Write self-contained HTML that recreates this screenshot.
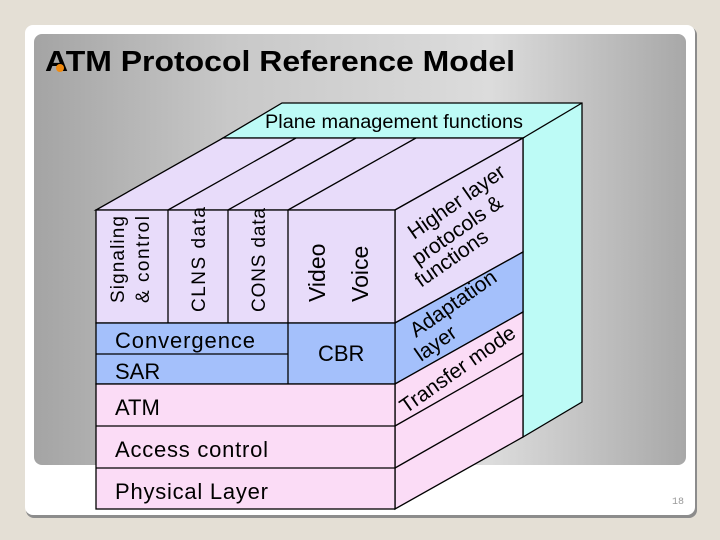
<!DOCTYPE html>
<html><head><meta charset="utf-8"><style>
html,body{margin:0;padding:0;background:#e4dfd5;}
svg{display:block;font-family:"Liberation Sans",Arial,sans-serif;}
</style></head><body>
<svg width="720" height="540" viewBox="0 0 720 540" xmlns="http://www.w3.org/2000/svg">
<defs>
<linearGradient id="g2" x1="0" y1="0" x2="1" y2="0">
<stop offset="0" stop-color="#a4a4a4"/><stop offset="0.3" stop-color="#c8c8c8"/><stop offset="0.7" stop-color="#dcdcdc"/><stop offset="1" stop-color="#a8a8a8"/>
</linearGradient>
</defs>
<rect x="0" y="0" width="720" height="540" fill="#e4dfd5"/>
<rect x="26" y="27" width="671" height="491" rx="8" fill="#8c8c8c"/>
<rect x="25" y="25" width="670" height="490" rx="8" fill="#ffffff"/>
<rect x="34" y="34" width="652" height="431" rx="8" fill="url(#g2)"/>
<text x="45" y="71" font-size="29" font-weight="bold" fill="#000" textLength="470" lengthAdjust="spacingAndGlyphs">ATM Protocol Reference Model</text>
<circle cx="60" cy="68" r="4" fill="#f08a10"/>
<g stroke="#000" stroke-width="1.3">
<polygon points="282,103 582,103 582,402 523,437 523,138 223,138" fill="#bdfbf6"/>
<polygon points="96,210 395,210 523,138 223,138" fill="#e8dcfa"/>
<line x1="168" y1="210" x2="296" y2="138"/>
<line x1="228" y1="210" x2="356" y2="138"/>
<line x1="288" y1="210" x2="416" y2="138"/>
<line x1="582" y1="103" x2="523" y2="138"/>
<polygon points="395,210 523,138 523,252 395,323" fill="#e8dcfa"/>
<polygon points="395,323 523,252 523,312 395,384" fill="#a4c0fb"/>
<polygon points="395,384 523,312 523,437 395,509" fill="#fbdcf6"/>
<line x1="395" y1="426" x2="523" y2="353"/>
<line x1="395" y1="468" x2="523" y2="395"/>
<rect x="96" y="210" width="299" height="113" fill="#e8dcfa"/>
<rect x="96" y="323" width="299" height="61" fill="#a4c0fb"/>
<rect x="96" y="384" width="299" height="125" fill="#fbdcf6"/>
<line x1="168" y1="210" x2="168" y2="323"/>
<line x1="228" y1="210" x2="228" y2="323"/>
<line x1="288" y1="210" x2="288" y2="384"/>
<line x1="96" y1="354" x2="288" y2="354"/>
<line x1="96" y1="426" x2="395" y2="426"/>
<line x1="96" y1="468" x2="395" y2="468"/>
</g>
<g fill="#000">
<text x="265" y="128" font-size="19" textLength="258" lengthAdjust="spacingAndGlyphs">Plane management functions</text>
<g font-size="19">
<text transform="translate(124,303) rotate(-90)" textLength="87">Signaling</text>
<text transform="translate(149,303) rotate(-90)" textLength="87">&amp; control</text>
<text transform="translate(205,312) rotate(-90)" textLength="105">CLNS data</text>
<text transform="translate(265,312) rotate(-90)" textLength="104">CONS data</text>
</g>
<text transform="translate(325,302) rotate(-90)" font-size="23">Video</text>
<text transform="translate(368,302) rotate(-90)" font-size="23">Voice</text>
<g font-size="22">
<text x="115" y="348" textLength="140">Convergence</text>
<text x="115" y="379">SAR</text>
<text x="318" y="361">CBR</text>
<text x="115" y="415">ATM</text>
<text x="115" y="457" textLength="153">Access control</text>
<text x="115" y="499" textLength="153">Physical Layer</text>
</g>
<g font-size="21">
<text transform="translate(414,240) rotate(-35)">Higher layer</text>
<text transform="translate(418,266) rotate(-35)">protocols &amp;</text>
<text transform="translate(421,288) rotate(-35)">functions</text>
<text transform="translate(416,338) rotate(-35)">Adaptation</text>
<text transform="translate(421,362) rotate(-35)">layer</text>
<text transform="translate(406,414) rotate(-35)">Transfer mode</text>
</g>
</g>
<text x="672" y="504" font-size="10" fill="#999" font-family="Liberation Mono,monospace">18</text>
</svg>
</body></html>
